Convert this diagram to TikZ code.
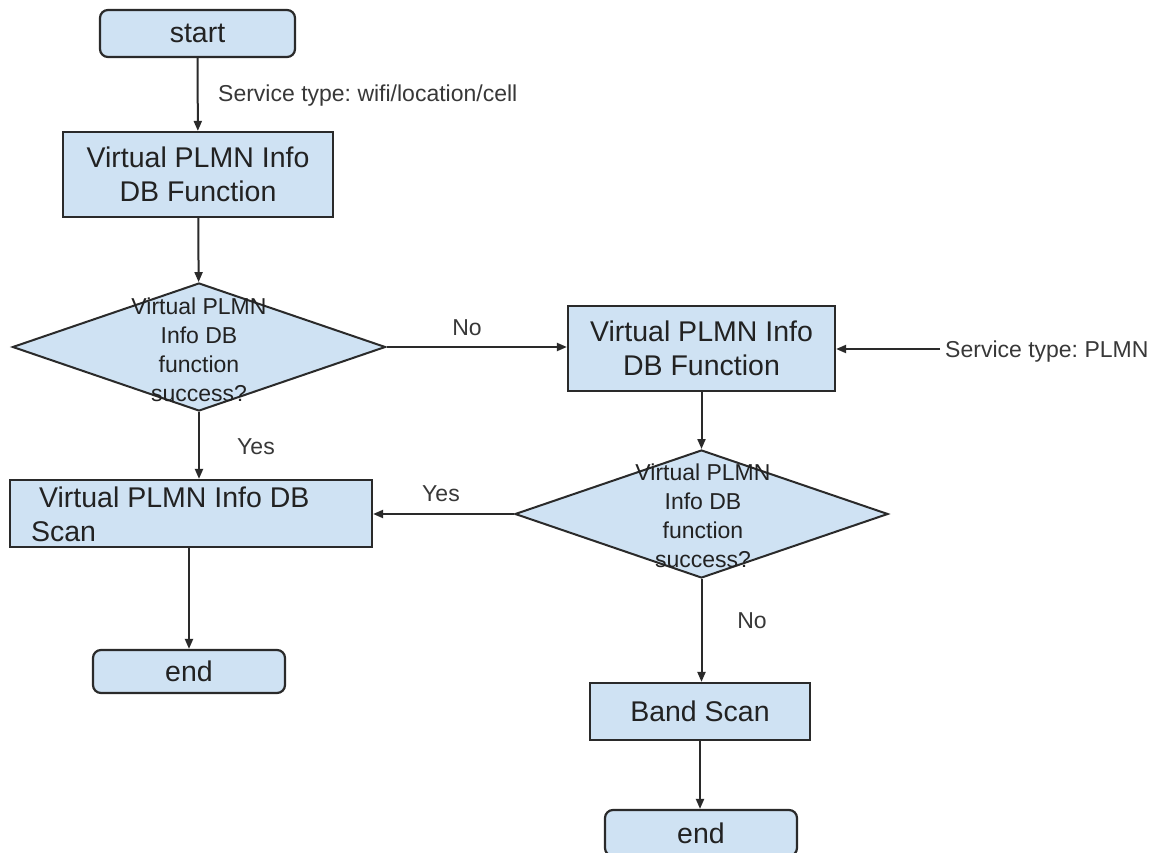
\documentclass[tikz,border=0pt]{standalone}
\usepackage{fontspec}
\setmainfont{Liberation Sans}
\usetikzlibrary{shapes.geometric,arrows.meta}
\frenchspacing
\definecolor{boxfill}{HTML}{CFE2F3}
\definecolor{boxline}{HTML}{2A2A2A}
\definecolor{txt}{HTML}{222222}
\definecolor{lbl}{HTML}{383838}
\tikzset{
  procbox/.style={draw=boxline, fill=boxfill, line width=2.2pt, inner sep=0pt,
    text=txt, font=\fontsize{28.5}{34}\selectfont, align=center},
  termbox/.style={procbox, rounded corners=8pt},
  decision/.style={draw=boxline, fill=boxfill, line width=2pt, diamond,
    inner sep=0pt, shape aspect=2.9},
  dtext/.style={text=txt, font=\fontsize{23}{29}\selectfont, align=center, inner sep=0pt},
  edgelbl/.style={text=lbl, font=\fontsize{23}{28}\selectfont, inner sep=0pt},
  flow/.style={draw=boxline, line width=2pt, -{Triangle[length=10pt,width=8pt]}}
}
\begin{document}
\begin{tikzpicture}[x=1pt,y=-1pt]
\clip (0,0) rectangle (1151,853);
\fill[white] (0,0) rectangle (1151,853);

% left column
\node[termbox, minimum width=195pt, minimum height=47pt] (start) at (197.5,33.5) {start};
\node[procbox, minimum width=270pt, minimum height=85pt] (box1) at (198,174.5)
  {Virtual PLMN Info\\DB Function};
\node[decision, minimum width=373pt, minimum height=128pt] (d1) at (199,347) {};
\node[dtext] (d1txt) at (199,350) {Virtual PLMN\\Info DB\\function\\success?};
\node[procbox, minimum width=362pt, minimum height=67pt] (box3) at (191,513.5) {};
\node[procbox, draw=none, fill=none, align=left, anchor=west] (box3txt) at (30,514.5)
  {\hspace{8pt}Virtual PLMN Info DB\\Scan};
\node[termbox, minimum width=192pt, minimum height=43pt] (end1) at (189,671.5) {end};

% right column
\node[procbox, minimum width=267pt, minimum height=85pt] (box2) at (701.5,348.5)
  {Virtual PLMN Info\\DB Function};
\node[decision, minimum width=373pt, minimum height=128pt] (d2) at (701.5,514) {};
\node[dtext] (d2txt) at (703,516) {Virtual PLMN\\Info DB\\function\\success?};
\node[procbox, minimum width=220pt, minimum height=57pt] (band) at (700,711.5) {Band Scan};
\node[termbox, minimum width=192pt, minimum height=46pt] (end2) at (701,833) {end};

\coordinate (plmnin) at (940,349);

% connectors
\draw[flow] (start) -- (box1);
\draw[flow] (box1) -- (d1);
\draw[flow] (d1.east) -- (d1.east -| box2.west);
\draw[flow] (plmnin) -- (plmnin -| box2.east);
\draw[flow] (d1.south) -- (d1.south |- box3.north);
\draw[flow] (box2) -- (d2);
\draw[flow] (d2.west) -- (d2.west -| box3.east);
\draw[flow] (end1.north |- box3.south) -- (end1.north);
\draw[flow] (d2.south) -- (d2.south |- band.north);
\draw[flow] (band) -- (band |- end2.north);

% labels
\node[edgelbl, anchor=west] (svc1) at (218,96) {Service type: wifi/location/cell};
\node[edgelbl, anchor=west] (svc2) at (945,352) {Service type: PLMN};
\node[edgelbl] (no1) at (467,328) {No};
\node[edgelbl] (yes1) at (256,447) {Yes};
\node[edgelbl] (yes2) at (441,494) {Yes};
\node[edgelbl] (no2) at (752,621) {No};
\end{tikzpicture}
\end{document}
